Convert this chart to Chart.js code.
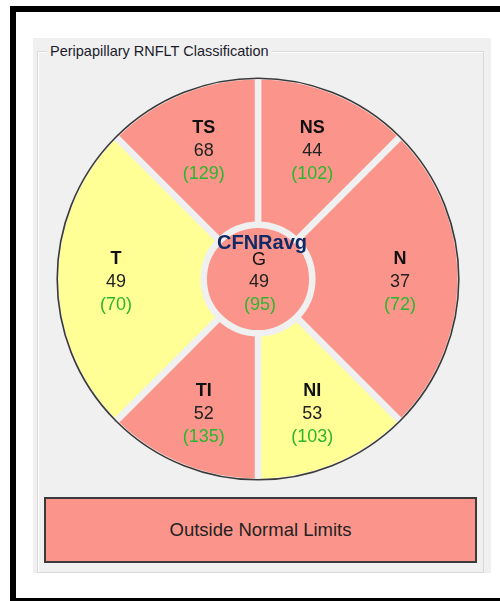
<!DOCTYPE html>
<html>
<head>
<meta charset="utf-8">
<script src="https://cdn.jsdelivr.net/npm/chart.js@4/dist/chart.umd.min.js"></script>
<style>
  html, body { margin:0; padding:0; background:#ffffff; }
  body { width:500px; height:601px; position:relative; overflow:hidden; font-family:"Liberation Sans", Arial, sans-serif; }
  #frameL { position:absolute; left:10px; top:6px; width:6px; height:595px; background:#000; }
  #frameT { position:absolute; left:10px; top:6px; width:490px; height:6px; background:#000; }
  #frameB { position:absolute; left:10px; top:598px; width:490px; height:3px; background:#000; }
  #panel { position:absolute; left:33px; top:38px; width:458px; height:535px; background:#f0f0f0; }
  #group { position:absolute; left:37px; top:51px; width:445px; height:520px; border:1px solid #d9d9d9; box-shadow: inset 1px 1px 0 #ffffff; }
  #gtitle { position:absolute; left:47px; top:42px; padding:0 3px; background:#f0f0f0; font-size:14.5px; color:#1c1c2c; line-height:18px; white-space:nowrap; }
  #status { position:absolute; left:44px; top:497px; width:429px; height:62px; background:#fb958b; border:2px solid #3a3a3a; display:flex; align-items:center; justify-content:center; font-size:18.5px; color:#222; }
  #c { position:absolute; left:52px; top:73px; }
</style>
</head>
<body>
<div id="frameL"></div><div id="frameT"></div><div id="frameB"></div>
<div id="panel"></div>
<div id="group"></div>
<div id="gtitle">Peripapillary RNFLT Classification</div>
<canvas id="c" width="412" height="412"></canvas>
<div id="status">Outside Normal Limits</div>
<script>
// Sectors clockwise from 12 o'clock
const sectors   = ['NS', 'N', 'NI', 'TI', 'T', 'TS'];
const spanDeg   = [45, 90, 45, 45, 90, 45];
const thickness = [44, 37, 53, 52, 49, 68];
const normative = [102, 72, 103, 135, 70, 129];
const status    = ['outside', 'outside', 'borderline', 'outside', 'borderline', 'outside'];
const globalLabel = 'G';
const globalTitle = 'CFNRavg';
const globalThickness = 49;
const globalNormative = 95;
const globalStatus = 'outside';

const statusColor = { outside: '#fb958b', borderline: '#ffff96', normal: '#9be39b' };
const gapColor = '#f0f0f0';
const ringBorder = 6.5;

const labelPlugin = {
  id: 'sectorLabels',
  afterDatasetsDraw(chart) {
    const ctx = chart.ctx;
    const ring = chart.getDatasetMeta(0).data;
    const centre = chart.getDatasetMeta(1).data[0];
    ctx.save();
    // outer outline
    const a0 = ring[0];
    ctx.beginPath();
    ctx.arc(a0.x, a0.y, a0.outerRadius - ringBorder / 2 + 1.3, 0, Math.PI * 2);
    ctx.lineWidth = 1.6;
    ctx.strokeStyle = '#3a3a3a';
    ctx.stroke();

    ctx.textAlign = 'center';
    ctx.textBaseline = 'middle';
    const fam = '"Liberation Sans", Arial, sans-serif';
    ring.forEach((arc, i) => {
      const mid = (arc.startAngle + arc.endAngle) / 2;
      const r = arc.innerRadius + 0.591 * (arc.outerRadius - arc.innerRadius);
      const x = arc.x + Math.cos(mid) * r;
      const y = arc.y + Math.sin(mid) * r + 3;
      ctx.fillStyle = '#111111';
      ctx.font = 'bold 18px ' + fam;
      ctx.fillText(sectors[i], x, y - 22.5);
      ctx.fillStyle = '#222222';
      ctx.font = '18px ' + fam;
      ctx.fillText(String(thickness[i]), x, y + 0.5);
      ctx.fillStyle = '#2eb52e';
      ctx.fillText('(' + normative[i] + ')', x, y + 23.5);
    });
    const cx = centre.x, cy = centre.y + 2;
    ctx.fillStyle = '#0f2a66';
    ctx.font = 'bold 20px ' + fam;
    ctx.fillText(globalTitle, cx + 4, cy - 38);
    ctx.fillStyle = '#111111';
    ctx.font = '18px ' + fam;
    ctx.fillText(globalLabel, cx + 1, cy - 21);
    ctx.fillStyle = '#222222';
    ctx.fillText(String(globalThickness), cx + 1, cy + 1.5);
    ctx.fillStyle = '#2eb52e';
    ctx.fillText('(' + globalNormative + ')', cx + 2, cy + 24.5);
    ctx.restore();
  }
};

new Chart(document.getElementById('c'), {
  type: 'doughnut',
  data: {
    labels: sectors,
    datasets: [
      {
        data: spanDeg,
        backgroundColor: status.map(s => statusColor[s]),
        borderColor: gapColor,
        borderWidth: ringBorder,
        hoverBorderWidth: ringBorder,
        weight: 148.45
      },
      {
        data: [360],
        backgroundColor: [statusColor[globalStatus]],
        borderWidth: 0,
        hoverBorderWidth: 0,
        weight: 54.3
      }
    ]
  },
  options: {
    responsive: false,
    animation: false,
    events: [],
    cutout: 0,
    layout: { padding: 0 },
    plugins: { legend: { display: false }, tooltip: { enabled: false } }
  },
  plugins: [labelPlugin]
});
</script>
</body>
</html>
